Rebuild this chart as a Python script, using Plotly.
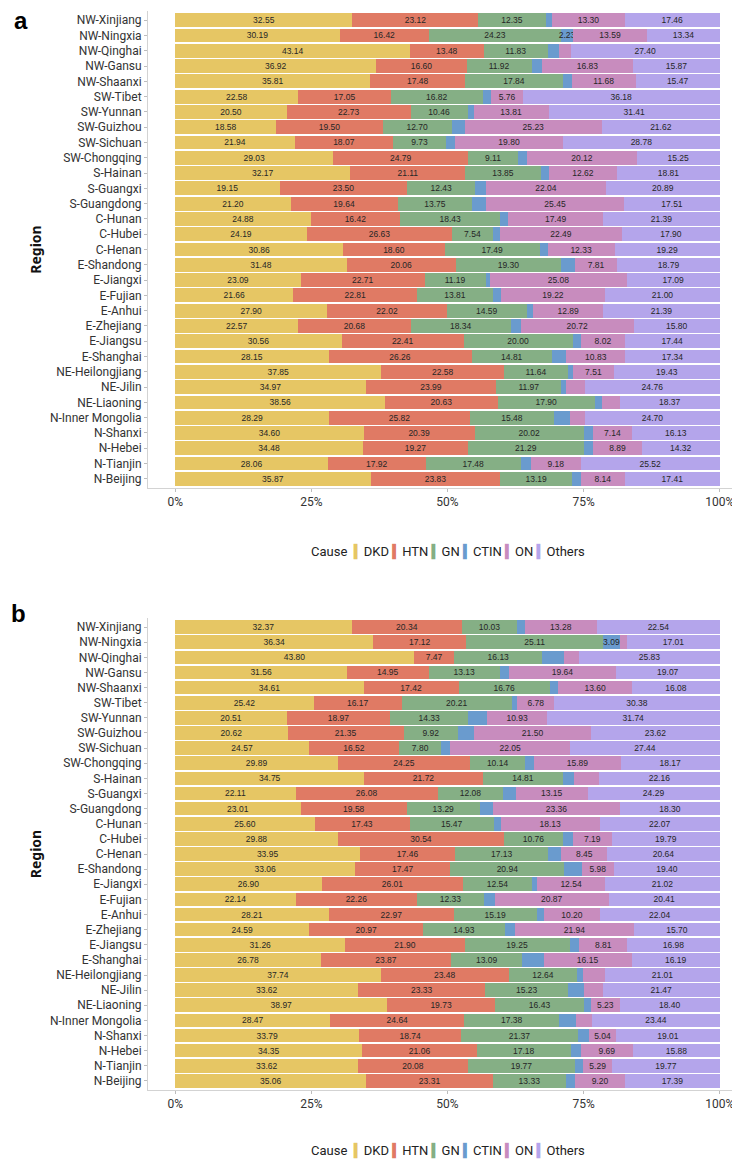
import plotly.graph_objects as go

regions = ["NW-Xinjiang", "NW-Ningxia", "NW-Qinghai", "NW-Gansu", "NW-Shaanxi",
           "SW-Tibet", "SW-Yunnan", "SW-Guizhou", "SW-Sichuan", "SW-Chongqing",
           "S-Hainan", "S-Guangxi", "S-Guangdong", "C-Hunan", "C-Hubei", "C-Henan",
           "E-Shandong", "E-Jiangxi", "E-Fujian", "E-Anhui", "E-Zhejiang", "E-Jiangsu",
           "E-Shanghai", "NE-Heilongjiang", "NE-Jilin", "NE-Liaoning",
           "N-Inner Mongolia", "N-Shanxi", "N-Hebei", "N-Tianjin", "N-Beijing"]

causes = ["DKD", "HTN", "GN", "CTIN", "ON", "Others"]
cause_colors = ["#E6C664", "#E07A64", "#85AF85", "#6A9BCE", "#C88CBE", "#B4A5EB"]

# Panel a
dkd_a = [32.55, 30.19, 43.14, 36.92, 35.81, 22.58, 20.50, 18.58, 21.94, 29.03, 32.17, 19.15, 21.20, 24.88, 24.19, 30.86,
         31.48, 23.09, 21.66, 27.90, 22.57, 30.56, 28.15, 37.85, 34.97, 38.56, 28.29, 34.60, 34.48, 28.06, 35.87]
htn_a = [23.12, 16.42, 13.48, 16.60, 17.48, 17.05, 22.73, 19.50, 18.07, 24.79, 21.11, 23.50, 19.64, 16.42, 26.63, 18.60,
         20.06, 22.71, 22.81, 22.02, 20.68, 22.41, 26.26, 22.58, 23.99, 20.63, 25.82, 20.39, 19.27, 17.92, 23.83]
gn_a = [12.35, 24.23, 11.83, 11.92, 17.84, 16.82, 10.46, 12.70, 9.73, 9.11, 13.85, 12.43, 13.75, 18.43, 7.54, 17.49,
        19.30, 11.19, 13.81, 14.59, 18.34, 20.00, 14.81, 11.64, 11.97, 17.90, 15.48, 20.02, 21.29, 17.48, 13.19]
ctin_a = [1.22, 2.23, 2.10, 1.86, 1.72, 1.61, 1.09, 2.37, 1.68, 1.70, 1.44, 1.99, 2.45, 1.39, 1.25, 1.43,
          2.56, 0.84, 1.50, 1.21, 1.89, 1.57, 2.61, 0.99, 0.78, 1.30, 2.96, 1.72, 1.75, 1.84, 1.56]
on_a = [13.30, 13.59, 2.05, 16.83, 11.68, 5.76, 13.81, 25.23, 19.80, 20.12, 12.62, 22.04, 25.45, 17.49, 22.49, 12.33,
        7.81, 25.08, 19.22, 12.89, 20.72, 8.02, 10.83, 7.51, 3.53, 3.24, 2.75, 7.14, 8.89, 9.18, 8.14]
others_a = [17.46, 13.34, 27.40, 15.87, 15.47, 36.18, 31.41, 21.62, 28.78, 15.25, 18.81, 20.89, 17.51, 21.39, 17.90, 19.29,
            18.79, 17.09, 21.00, 21.39, 15.80, 17.44, 17.34, 19.43, 24.76, 18.37, 24.70, 16.13, 14.32, 25.52, 17.41]

# Panel b
dkd_b = [32.37, 36.34, 43.80, 31.56, 34.61, 25.42, 20.51, 20.62, 24.57, 29.89, 34.75, 22.11, 23.01, 25.60, 29.88, 33.95,
         33.06, 26.90, 22.14, 28.21, 24.59, 31.26, 26.78, 37.74, 33.62, 38.97, 28.47, 33.79, 34.35, 33.62, 35.06]
htn_b = [20.34, 17.12, 7.47, 14.95, 17.42, 16.17, 18.97, 21.35, 16.52, 24.25, 21.72, 26.08, 19.58, 17.43, 30.54, 17.46,
         17.47, 26.01, 22.26, 22.97, 20.97, 21.90, 23.87, 23.48, 23.33, 19.73, 24.64, 18.74, 21.06, 20.08, 23.31]
gn_b = [10.03, 25.11, 16.13, 13.13, 16.76, 20.21, 14.33, 9.92, 7.80, 10.14, 14.81, 12.08, 13.29, 15.47, 10.76, 17.13,
        20.94, 12.54, 12.33, 15.19, 14.93, 19.25, 13.09, 12.64, 15.23, 16.43, 17.38, 21.37, 17.18, 19.77, 13.33]
ctin_b = [1.44, 3.09, 3.97, 1.65, 1.53, 1.04, 3.52, 2.99, 1.62, 1.66, 2.04, 2.29, 2.46, 1.30, 1.84, 2.37,
          3.15, 0.99, 1.99, 1.39, 1.87, 1.80, 3.92, 0.95, 2.97, 1.24, 3.03, 2.05, 1.84, 1.47, 1.71]
on_b = [13.28, 1.33, 2.80, 19.64, 13.60, 6.78, 10.93, 21.50, 22.05, 15.89, 4.52, 13.15, 23.36, 18.13, 7.19, 8.45,
        5.98, 12.54, 20.87, 10.20, 21.94, 8.81, 16.15, 4.18, 3.38, 5.23, 3.04, 5.04, 9.69, 5.29, 9.20]
others_b = [22.54, 17.01, 25.83, 19.07, 16.08, 30.38, 31.74, 23.62, 27.44, 18.17, 22.16, 24.29, 18.30, 22.07, 19.79, 20.64,
            19.40, 21.02, 20.41, 22.04, 15.70, 16.98, 16.19, 21.01, 21.47, 18.40, 23.44, 19.01, 15.88, 19.77, 17.39]

x_tickvals = [0, 25, 50, 75, 100]
x_ticktext = ["0%", "25%", "50%", "75%", "100%"]

label_threshold = 5
extra_labelled = {("CTIN", "NW-Ningxia")}

panels = [
    ("x", "y", [dkd_a, htn_a, gn_a, ctin_a, on_a, others_a]),
    ("x2", "y2", [dkd_b, htn_b, gn_b, ctin_b, on_b, others_b]),
]

TICK_FONT = "Roboto"
W, H = 740, 1162
ML, MR, MT, MB = 140, 1, 3, 80
PH = H - MT - MB


def py(p):
    return 1 - (p - MT) / PH


def px(p):
    return (p - ML) / (W - ML - MR)


fig = go.Figure()
for xa, ya, series in panels:
    for name, col, vals in zip(causes, cause_colors, series):
        texts = ["%.2f" % v if (v >= label_threshold or (name, r) in extra_labelled) else ""
                 for v, r in zip(vals, regions)]
        fig.add_trace(go.Bar(
            x=vals, y=regions, orientation="h", name=name,
            marker=dict(color=col, line=dict(width=0)),
            text=texts, textposition="inside", insidetextanchor="middle",
            textangle=0, textfont=dict(size=8.5, color="#262626", family="Liberation Sans"),
            xaxis=xa, yaxis=ya, showlegend=False, hoverinfo="x+y+name",
        ))

axis_common = dict(showline=True, linecolor="#D3D3D3", linewidth=1, showgrid=False, zeroline=False,
                   ticks="outside", ticklen=3, tickcolor="#BDBDBD",
                   tickfont=dict(family=TICK_FONT, size=12, color="#333333"))

xcommon = dict(axis_common, range=[-5, 105], tickvals=x_tickvals, ticktext=x_ticktext, fixedrange=True)
ycommon = dict(axis_common, type="category", categoryorder="array", categoryarray=regions,
               range=[len(regions) - 0.4, -0.6],
               title=dict(text="<b>Region</b>", font=dict(family="Noto Sans", size=14, color="#111111"), standoff=4))

# Legend line: "Cause" followed by a thin coloured key and the cause name
legend_text = "Cause&nbsp;&nbsp;" + " ".join(
    "<span style='color:%s;font-family:DejaVu Sans'>\u258D</span>%s" % (c, n) for n, c in zip(causes, cause_colors))
legend_font = dict(family="Roboto", size=13, color="#222222")

fig.update_layout(
    width=W, height=H, barmode="stack", bargap=0.1,
    paper_bgcolor="white", plot_bgcolor="white",
    margin=dict(l=ML, r=MR, t=MT, b=MB),
    uniformtext=dict(minsize=8.5, mode="show"),
    showlegend=False,
    xaxis=dict(xcommon, domain=[0, 1], anchor="y"),
    yaxis=dict(ycommon, domain=[py(480), 1], anchor="x"),
    xaxis2=dict(xcommon, domain=[0, 1], anchor="y2"),
    yaxis2=dict(ycommon, domain=[0, py(610)], anchor="x2"),
    annotations=[
        dict(text="<b>a</b>", xref="paper", yref="paper", x=px(13), y=py(13), showarrow=False,
             xanchor="center", yanchor="middle", font=dict(family="Liberation Sans", size=24, color="#000000")),
        dict(text="<b>b</b>", xref="paper", yref="paper", x=px(10), y=py(606), showarrow=False,
             xanchor="center", yanchor="middle", font=dict(family="Liberation Sans", size=24, color="#000000")),
        dict(text=legend_text, xref="paper", yref="paper", x=px(440), y=py(543), showarrow=False,
             xanchor="center", yanchor="middle", font=legend_font),
        dict(text=legend_text, xref="paper", yref="paper", x=px(440), y=py(1142), showarrow=False,
             xanchor="center", yanchor="middle", font=legend_font),
    ],
)

fig.write_html("out.html")
